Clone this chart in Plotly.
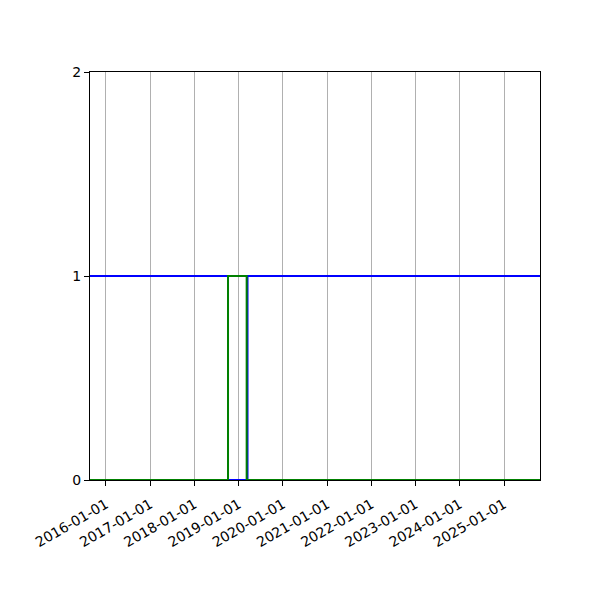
import plotly.graph_objects as go

# step series
blue_dates = ["2015-08-22", "2018-10-05", "2019-03-15", "2025-10-25"]
blue_vals = [1, 0, 1, 1]
green_dates = ["2015-08-22", "2018-10-05", "2019-03-08", "2025-10-25"]
green_vals = [0, 1, 0, 0]

tick_dates = ["%d-01-01" % y for y in range(2016, 2026)]
y_ticks = [0, 1, 2]

fig = go.Figure()
fig.add_trace(go.Scatter(x=blue_dates, y=blue_vals, mode="lines",
                         line=dict(color="#0000ff", width=2, shape="hv")))
fig.add_trace(go.Scatter(x=green_dates, y=green_vals, mode="lines",
                         line=dict(color="#008000", width=2, shape="hv")))

axis_common = dict(showline=True, linecolor="black", linewidth=1, mirror=True,
                   ticks="outside", ticklen=5, tickcolor="black", zeroline=False,
                   tickfont=dict(family="DejaVu Sans", size=14, color="black"))

# page body adds an 8px offset, margins compensate for it
fig.update_layout(
    width=600, height=600,
    margin=dict(l=82, r=68, t=64, b=128),
    plot_bgcolor="white", paper_bgcolor="white",
    showlegend=False,
    xaxis=dict(axis_common, type="date", range=[blue_dates[0], blue_dates[-1]],
               tickvals=tick_dates, ticktext=tick_dates, tickangle=-30,
               ticklabelstandoff=5,
               showgrid=True, gridcolor="#b0b0b0", gridwidth=1),
    yaxis=dict(axis_common, range=[0, 2], tickvals=y_ticks, showgrid=False),
)

fig.write_html("out.html")
